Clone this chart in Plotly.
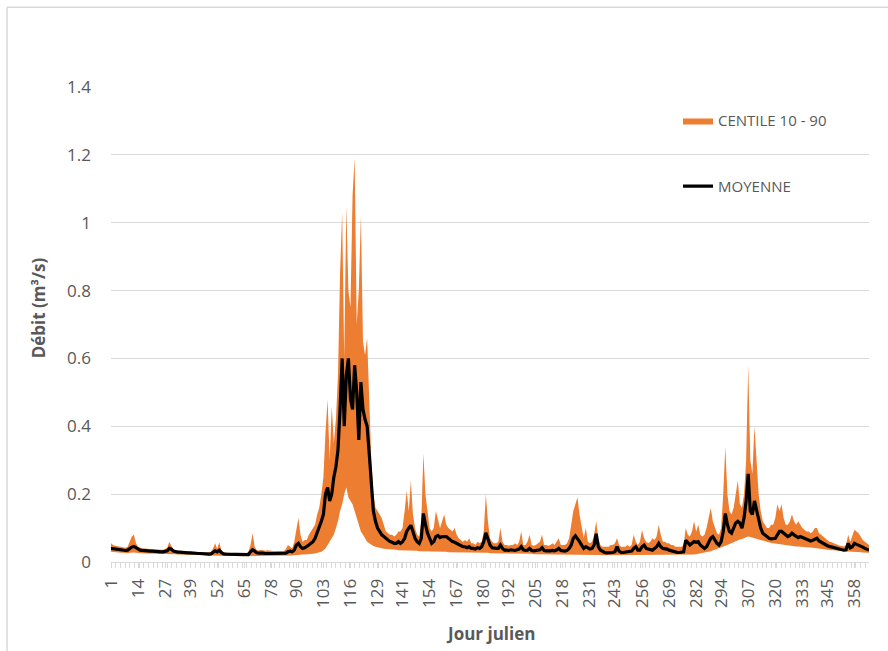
import plotly.graph_objects as go

# Julian day (one value per day of the year)
JOURS = list(range(1, 366))

# Mean daily discharge (m3/s)
MOYENNE = [
    0.040, 0.039, 0.038, 0.037, 0.036, 0.035, 0.035, 0.034, 0.035, 0.040,
    0.044, 0.046, 0.042, 0.038, 0.035, 0.034, 0.033, 0.033, 0.032, 0.032,
    0.032, 0.031, 0.031, 0.031, 0.030, 0.030, 0.031, 0.033, 0.040, 0.038,
    0.032, 0.030, 0.029, 0.029, 0.028, 0.028, 0.027, 0.027, 0.027, 0.026,
    0.026, 0.025, 0.025, 0.025, 0.024, 0.024, 0.024, 0.023, 0.024, 0.028,
    0.033, 0.030, 0.035, 0.028, 0.024, 0.023, 0.023, 0.022, 0.022, 0.022,
    0.022, 0.021, 0.021, 0.021, 0.021, 0.021, 0.022, 0.030, 0.036, 0.032,
    0.027, 0.026, 0.027, 0.026, 0.025, 0.026, 0.025, 0.025, 0.025, 0.024,
    0.024, 0.024, 0.025, 0.024, 0.026, 0.030, 0.032, 0.030, 0.035, 0.050,
    0.055, 0.045, 0.040, 0.042, 0.045, 0.050, 0.055, 0.060, 0.070, 0.085,
    0.100, 0.120, 0.140, 0.200, 0.220, 0.180, 0.200, 0.250, 0.280, 0.330,
    0.450, 0.600, 0.400, 0.550, 0.600, 0.480, 0.450, 0.580, 0.500, 0.360,
    0.530, 0.450, 0.420, 0.400, 0.320, 0.220, 0.150, 0.120, 0.100, 0.090,
    0.080, 0.075, 0.070, 0.065, 0.060, 0.058, 0.055, 0.055, 0.060, 0.055,
    0.060, 0.070, 0.090, 0.100, 0.108, 0.090, 0.070, 0.060, 0.055, 0.070,
    0.143, 0.110, 0.085, 0.070, 0.055, 0.060, 0.075, 0.078, 0.072, 0.075,
    0.076, 0.075, 0.070, 0.065, 0.060, 0.058, 0.055, 0.050, 0.048, 0.045,
    0.045, 0.042, 0.045, 0.040, 0.040, 0.038, 0.042, 0.040, 0.045, 0.060,
    0.086, 0.070, 0.050, 0.042, 0.040, 0.040, 0.040, 0.050, 0.040, 0.035,
    0.035, 0.034, 0.036, 0.035, 0.034, 0.036, 0.038, 0.045, 0.036, 0.034,
    0.035, 0.040, 0.034, 0.033, 0.034, 0.035, 0.036, 0.042, 0.034, 0.033,
    0.032, 0.033, 0.034, 0.033, 0.035, 0.040, 0.034, 0.032, 0.032, 0.034,
    0.040, 0.050, 0.070, 0.077, 0.070, 0.060, 0.050, 0.040, 0.045, 0.040,
    0.038, 0.040, 0.050, 0.083, 0.045, 0.035, 0.030, 0.028, 0.027, 0.027,
    0.027, 0.028, 0.030, 0.045, 0.032, 0.028, 0.028, 0.029, 0.030, 0.030,
    0.032, 0.040, 0.045, 0.035, 0.035, 0.045, 0.050, 0.040, 0.038, 0.035,
    0.035, 0.040, 0.045, 0.055, 0.045, 0.040, 0.040, 0.038, 0.035, 0.033,
    0.030, 0.030, 0.028, 0.028, 0.028, 0.030, 0.064, 0.055, 0.050, 0.055,
    0.060, 0.058, 0.060, 0.050, 0.045, 0.040, 0.045, 0.060, 0.070, 0.075,
    0.065, 0.055, 0.050, 0.060, 0.090, 0.143, 0.110, 0.090, 0.085, 0.100,
    0.115, 0.120, 0.115, 0.100, 0.130, 0.180, 0.260, 0.150, 0.140, 0.180,
    0.150, 0.120, 0.100, 0.085, 0.080, 0.075, 0.070, 0.068, 0.068, 0.070,
    0.080, 0.090, 0.090, 0.085, 0.080, 0.075, 0.078, 0.085, 0.080, 0.075,
    0.072, 0.075, 0.072, 0.070, 0.066, 0.064, 0.062, 0.064, 0.068, 0.070,
    0.062, 0.058, 0.055, 0.050, 0.048, 0.046, 0.044, 0.042, 0.040, 0.038,
    0.037, 0.036, 0.035, 0.036, 0.055, 0.042, 0.045, 0.055, 0.052, 0.050,
    0.047, 0.044, 0.040, 0.037, 0.035,
]

# 90th percentile of daily discharge (m3/s)
CENTILE_90 = [
    0.055, 0.050, 0.048, 0.046, 0.045, 0.044, 0.043, 0.042, 0.045, 0.060,
    0.075, 0.080, 0.055, 0.045, 0.042, 0.040, 0.040, 0.039, 0.038, 0.038,
    0.038, 0.037, 0.037, 0.036, 0.036, 0.036, 0.038, 0.042, 0.060, 0.048,
    0.036, 0.034, 0.033, 0.033, 0.032, 0.032, 0.031, 0.031, 0.031, 0.030,
    0.030, 0.030, 0.029, 0.029, 0.029, 0.028, 0.028, 0.028, 0.030, 0.040,
    0.055, 0.038, 0.058, 0.035, 0.029, 0.028, 0.027, 0.027, 0.026, 0.026,
    0.026, 0.026, 0.026, 0.026, 0.026, 0.026, 0.030, 0.050, 0.085, 0.045,
    0.035, 0.034, 0.036, 0.034, 0.033, 0.035, 0.033, 0.033, 0.032, 0.032,
    0.032, 0.032, 0.034, 0.032, 0.038, 0.050, 0.045, 0.040, 0.060, 0.100,
    0.130, 0.080, 0.060, 0.065, 0.065, 0.080, 0.090, 0.100, 0.110, 0.140,
    0.160, 0.200, 0.250, 0.380, 0.480, 0.300, 0.460, 0.350, 0.420, 0.550,
    0.850, 1.030, 0.600, 1.050, 0.800, 0.750, 1.080, 1.190, 0.700, 0.800,
    1.020, 0.650, 0.610, 0.660, 0.450, 0.300, 0.200, 0.160, 0.150, 0.140,
    0.130, 0.110, 0.090, 0.085, 0.080, 0.080, 0.075, 0.080, 0.090, 0.090,
    0.100, 0.150, 0.210, 0.150, 0.240, 0.140, 0.100, 0.080, 0.075, 0.120,
    0.320, 0.200, 0.140, 0.100, 0.090, 0.100, 0.150, 0.120, 0.100, 0.120,
    0.140, 0.110, 0.100, 0.095, 0.090, 0.100, 0.080, 0.070, 0.065, 0.060,
    0.065, 0.060, 0.070, 0.055, 0.055, 0.050, 0.060, 0.055, 0.060, 0.090,
    0.200, 0.120, 0.070, 0.060, 0.055, 0.055, 0.060, 0.100, 0.060, 0.050,
    0.050, 0.048, 0.050, 0.050, 0.055, 0.050, 0.060, 0.090, 0.050, 0.050,
    0.060, 0.080, 0.050, 0.048, 0.050, 0.055, 0.060, 0.080, 0.050, 0.050,
    0.048, 0.050, 0.055, 0.050, 0.060, 0.070, 0.050, 0.050, 0.050, 0.055,
    0.070, 0.110, 0.150, 0.170, 0.190, 0.140, 0.100, 0.070, 0.100, 0.060,
    0.055, 0.060, 0.080, 0.120, 0.070, 0.050, 0.045, 0.045, 0.045, 0.045,
    0.050, 0.050, 0.055, 0.070, 0.050, 0.045, 0.045, 0.045, 0.050, 0.045,
    0.050, 0.080, 0.060, 0.050, 0.060, 0.094, 0.070, 0.060, 0.055, 0.060,
    0.070, 0.065, 0.075, 0.110, 0.080, 0.060, 0.060, 0.055, 0.055, 0.050,
    0.050, 0.045, 0.045, 0.045, 0.045, 0.050, 0.100, 0.080, 0.075, 0.090,
    0.120, 0.090, 0.110, 0.080, 0.075, 0.080, 0.100, 0.130, 0.160, 0.120,
    0.100, 0.085, 0.080, 0.100, 0.200, 0.340, 0.200, 0.150, 0.140, 0.160,
    0.200, 0.240, 0.170, 0.160, 0.200, 0.300, 0.580, 0.300, 0.260, 0.400,
    0.300, 0.200, 0.150, 0.120, 0.110, 0.100, 0.100, 0.110, 0.110, 0.130,
    0.170, 0.150, 0.170, 0.130, 0.110, 0.110, 0.120, 0.140, 0.120, 0.110,
    0.120, 0.110, 0.100, 0.095, 0.090, 0.090, 0.085, 0.090, 0.100, 0.100,
    0.085, 0.080, 0.075, 0.070, 0.065, 0.060, 0.058, 0.055, 0.052, 0.050,
    0.048, 0.047, 0.046, 0.050, 0.080, 0.060, 0.080, 0.095, 0.090, 0.085,
    0.075, 0.065, 0.060, 0.055, 0.050,
]

# 10th percentile of daily discharge (m3/s)
CENTILE_10 = [
    0.030, 0.029, 0.028, 0.028, 0.027, 0.027, 0.027, 0.026, 0.026, 0.027,
    0.028, 0.028, 0.027, 0.026, 0.026, 0.025, 0.025, 0.025, 0.025, 0.024,
    0.024, 0.024, 0.024, 0.024, 0.023, 0.023, 0.023, 0.024, 0.025, 0.025,
    0.023, 0.023, 0.022, 0.022, 0.022, 0.022, 0.021, 0.021, 0.021, 0.021,
    0.021, 0.020, 0.020, 0.020, 0.020, 0.020, 0.019, 0.019, 0.019, 0.020,
    0.020, 0.020, 0.020, 0.019, 0.019, 0.018, 0.018, 0.018, 0.018, 0.018,
    0.018, 0.017, 0.017, 0.017, 0.017, 0.017, 0.017, 0.018, 0.019, 0.019,
    0.018, 0.018, 0.018, 0.018, 0.018, 0.018, 0.018, 0.018, 0.018, 0.018,
    0.018, 0.018, 0.018, 0.018, 0.018, 0.019, 0.019, 0.019, 0.020, 0.021,
    0.022, 0.022, 0.022, 0.022, 0.022, 0.023, 0.023, 0.024, 0.025, 0.026,
    0.028, 0.030, 0.035, 0.040, 0.050, 0.060, 0.070, 0.080, 0.100, 0.120,
    0.150, 0.170, 0.200, 0.220, 0.190, 0.180, 0.170, 0.150, 0.130, 0.110,
    0.090, 0.080, 0.070, 0.060, 0.055, 0.050, 0.047, 0.045, 0.043, 0.041,
    0.040, 0.039, 0.038, 0.038, 0.037, 0.037, 0.036, 0.036, 0.035, 0.035,
    0.035, 0.034, 0.034, 0.034, 0.033, 0.033, 0.033, 0.033, 0.032, 0.032,
    0.032, 0.032, 0.031, 0.031, 0.031, 0.031, 0.030, 0.030, 0.030, 0.030,
    0.030, 0.030, 0.029, 0.029, 0.029, 0.029, 0.029, 0.028, 0.028, 0.028,
    0.028, 0.028, 0.028, 0.027, 0.027, 0.027, 0.027, 0.027, 0.027, 0.027,
    0.027, 0.027, 0.026, 0.026, 0.026, 0.026, 0.026, 0.026, 0.025, 0.025,
    0.025, 0.025, 0.025, 0.025, 0.025, 0.025, 0.024, 0.024, 0.024, 0.024,
    0.024, 0.024, 0.024, 0.023, 0.023, 0.023, 0.023, 0.023, 0.023, 0.023,
    0.022, 0.022, 0.022, 0.022, 0.022, 0.022, 0.022, 0.022, 0.022, 0.022,
    0.022, 0.022, 0.023, 0.023, 0.023, 0.023, 0.022, 0.022, 0.022, 0.021,
    0.021, 0.021, 0.021, 0.021, 0.021, 0.021, 0.020, 0.020, 0.020, 0.020,
    0.020, 0.020, 0.020, 0.020, 0.020, 0.020, 0.020, 0.020, 0.020, 0.020,
    0.020, 0.020, 0.020, 0.020, 0.020, 0.020, 0.020, 0.020, 0.020, 0.020,
    0.020, 0.020, 0.020, 0.020, 0.020, 0.020, 0.020, 0.020, 0.020, 0.020,
    0.020, 0.020, 0.020, 0.020, 0.020, 0.020, 0.021, 0.021, 0.021, 0.022,
    0.022, 0.023, 0.024, 0.025, 0.026, 0.027, 0.028, 0.030, 0.032, 0.034,
    0.036, 0.038, 0.040, 0.042, 0.045, 0.048, 0.050, 0.053, 0.056, 0.058,
    0.060, 0.063, 0.066, 0.068, 0.070, 0.073, 0.075, 0.074, 0.072, 0.070,
    0.068, 0.066, 0.064, 0.062, 0.060, 0.058, 0.057, 0.056, 0.055, 0.054,
    0.053, 0.052, 0.051, 0.050, 0.050, 0.049, 0.048, 0.048, 0.047, 0.046,
    0.046, 0.045, 0.045, 0.044, 0.044, 0.043, 0.043, 0.042, 0.042, 0.041,
    0.041, 0.040, 0.039, 0.038, 0.037, 0.036, 0.035, 0.035, 0.034, 0.033,
    0.033, 0.032, 0.032, 0.031, 0.031, 0.031, 0.030, 0.030, 0.030, 0.029,
    0.029, 0.028, 0.028, 0.027, 0.027,
]

# Day labels shown on the horizontal axis
JOURS_AFFICHES = [1, 14, 27, 39, 52, 65, 78, 90, 103, 116, 129, 141, 154, 167,
                  180, 192, 205, 218, 231, 243, 256, 269, 282, 294, 307, 320,
                  333, 345, 358]

ORANGE = "#ED7D31"
GRIS_TEXTE = "#595959"
GRIS_GRILLE = "#D9D9D9"
POLICE = "Open Sans"

W, H = 888, 651
# plot area in pixels
PL, PR, PT, PB = 111, 869, 86.7, 561.7

fig = go.Figure()

# Lower bound of the 10-90 band (invisible, used as the fill base)
fig.add_trace(go.Scatter(
    x=JOURS, y=CENTILE_10, mode="lines",
    line=dict(width=0, color=ORANGE),
    showlegend=False, hoverinfo="skip", legendgroup="c",
))
# Upper bound, filled down to the lower bound
fig.add_trace(go.Scatter(
    x=JOURS, y=CENTILE_90, mode="lines",
    line=dict(width=0, color=ORANGE),
    fill="tonexty", fillcolor=ORANGE,
    name="CENTILE 10 - 90", legendgroup="c",
))
# Mean discharge
fig.add_trace(go.Scatter(
    x=JOURS, y=MOYENNE, mode="lines",
    line=dict(width=3.2, color="black"),
    name="MOYENNE", legendgroup="m",
))

plot_w = PR - PL
plot_h = PB - PT


def px_x(p):
    return (p - PL) / plot_w


def px_y(p):
    return (PB - p) / plot_h


fig.update_layout(
    width=W, height=H,
    margin=dict(l=PL, r=W - PR, t=PT, b=H - PB, pad=0),
    paper_bgcolor="white", plot_bgcolor="white",
    font=dict(family=POLICE, color=GRIS_TEXTE),
    showlegend=True,
    legend=dict(
        x=px_x(678), y=px_y(104), xanchor="left", yanchor="top",
        font=dict(size=15, color=GRIS_TEXTE, family=POLICE),
        traceorder="grouped", tracegroupgap=43,
        bgcolor="rgba(0,0,0,0)", itemwidth=30,
    ),
    xaxis=dict(
        range=[JOURS[0], JOURS[-1]],
        tickmode="array", tickvals=JOURS_AFFICHES,
        ticktext=[str(j) for j in JOURS_AFFICHES],
        tickangle=-90, tickfont=dict(size=17, color=GRIS_TEXTE),
        ticks="outside", ticklen=5, tickcolor=GRIS_GRILLE, tickwidth=1,
        minor=dict(ticks="outside", ticklen=5, tickcolor=GRIS_GRILLE,
                   tickwidth=1, tick0=1, dtick=2.25, showgrid=False),
        showline=True, linecolor=GRIS_GRILLE, linewidth=1,
        showgrid=False, zeroline=False, ticklabelstandoff=4,
    ),
    yaxis=dict(
        range=[0, 1.4], dtick=0.2, tick0=0,
        tickfont=dict(size=17, color=GRIS_TEXTE),
        showgrid=True, gridcolor=GRIS_GRILLE, gridwidth=1,
        zeroline=False, showline=False, ticks="",
        ticklabelstandoff=19,
    ),
    annotations=[
        dict(text="<b>Débit (m³/s)</b>", xref="paper", yref="paper",
             x=px_x(38), y=px_y(308), textangle=-90, showarrow=False,
             font=dict(size=17, color=GRIS_TEXTE, family=POLICE),
             xanchor="center", yanchor="middle"),
        dict(text="<b>Jour julien</b>", xref="paper", yref="paper",
             x=px_x(490), y=px_y(633), showarrow=False,
             font=dict(size=17, color=GRIS_TEXTE, family=POLICE),
             xanchor="center", yanchor="middle"),
    ],
    shapes=[
        # chart frame (left and top edges)
        dict(type="line", xref="paper", yref="paper",
             x0=px_x(7), x1=px_x(7), y0=px_y(7), y1=px_y(H + 5),
             line=dict(color=GRIS_GRILLE, width=1.5)),
        dict(type="line", xref="paper", yref="paper",
             x0=px_x(7), x1=px_x(W + 5), y0=px_y(7), y1=px_y(7),
             line=dict(color=GRIS_GRILLE, width=1.5)),
    ],
)

fig.write_html("out.html")
